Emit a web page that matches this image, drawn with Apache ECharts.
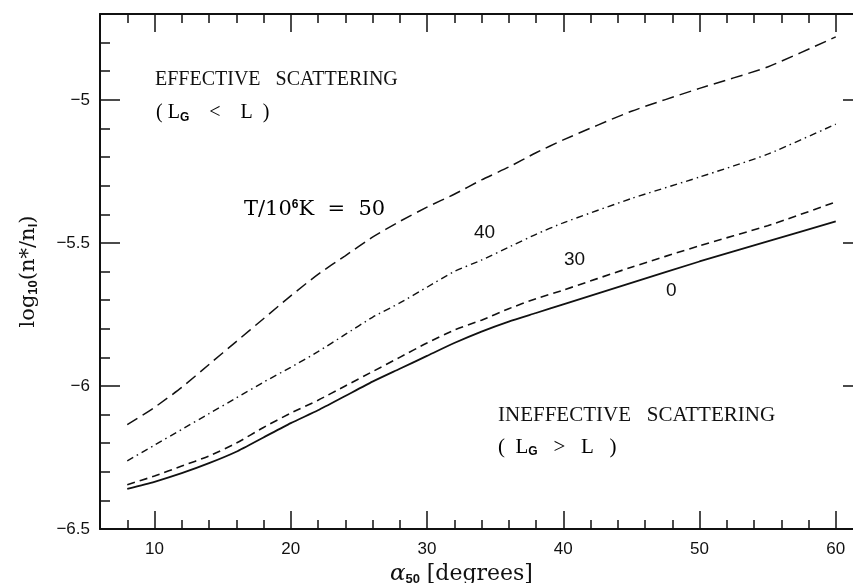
<!DOCTYPE html>
<html>
<head>
<meta charset="utf-8">
<script src="https://cdn.jsdelivr.net/npm/echarts@6/dist/echarts.min.js"></script>
<style>
  html, body { margin: 0; padding: 0; background: #fff; }
  #chart { width: 853px; height: 583px; }
</style>
</head>
<body>
<div id="chart"></div>
<script>
// alpha_50 [degrees]
const alpha = [8, 10, 12, 14, 16, 18, 20, 22, 24, 26, 28, 30, 32, 34, 36, 38, 40, 45, 50, 55, 60];
// log10(n*/n_l) for T/10^6 K = 0, 30, 40, 50
const t0  = [-6.36, -6.335, -6.305, -6.27, -6.23, -6.18, -6.13, -6.085, -6.035, -5.985, -5.94, -5.895, -5.85, -5.81, -5.775, -5.745, -5.715, -5.64, -5.565, -5.495, -5.425];
const t30 = [-6.345, -6.315, -6.28, -6.245, -6.2, -6.145, -6.095, -6.05, -6.0, -5.95, -5.9, -5.85, -5.805, -5.77, -5.73, -5.695, -5.665, -5.585, -5.51, -5.44, -5.357];
const t40 = [-6.262, -6.207, -6.152, -6.097, -6.042, -5.987, -5.935, -5.88, -5.82, -5.76, -5.71, -5.655, -5.6, -5.56, -5.515, -5.47, -5.43, -5.345, -5.27, -5.19, -5.085];
const t50 = [-6.135, -6.075, -6.005, -5.925, -5.845, -5.765, -5.685, -5.61, -5.545, -5.48, -5.425, -5.375, -5.33, -5.28, -5.235, -5.185, -5.14, -5.04, -4.96, -4.885, -4.78];

const curveLabels = ['0', '30', '40'];

const pair = (ys) => alpha.map((x, i) => [x, ys[i]]);

const serif = '"Liberation Serif", "DejaVu Serif", serif';
const wideSerif = '"DejaVu Serif", serif';
const sans = '"Liberation Sans", Arial, sans-serif';
const ink = '#111';

const rich = {
  s: { fontFamily: serif, fontSize: 20, color: ink },
  b: { fontFamily: serif, fontSize: 21, color: ink },
  w: { fontFamily: wideSerif, fontSize: 21, color: ink },
  sub: { fontFamily: sans, fontWeight: 'bold', fontSize: 12, color: ink, padding: [9, 0, 0, 0] },
  sup: { fontFamily: sans, fontWeight: 'bold', fontSize: 12, color: ink, padding: [0, 0, 11, 0] }
};

const xNameRich = {
  a: { fontFamily: wideSerif, fontStyle: 'italic', fontSize: 23, color: ink },
  s: { fontFamily: wideSerif, fontSize: 22, color: ink },
  sub: { fontFamily: sans, fontWeight: 'bold', fontSize: 13, color: ink, padding: [10, 0, 0, 0] }
};

const yNameRich = {
  s: { fontFamily: wideSerif, fontSize: 21, color: ink },
  sub: { fontFamily: sans, fontWeight: 'bold', fontSize: 13, color: ink, padding: [9, 0, 0, 0] }
};

const xBase = { type: 'value', min: 6, max: 62, gridIndex: 0 };
const yBase = { type: 'value', min: -6.5, max: -4.7, gridIndex: 0 };
const tickLine = { color: ink, width: 1.5 };

const myChart = echarts.init(document.getElementById('chart'));

const option = {
  animation: false,
  backgroundColor: '#fff',
  grid: { left: 100, top: 14, width: 763, height: 515, outerBoundsMode: 'none', containLabel: false },
  xAxis: [
    {
      ...xBase,
      position: 'bottom',
      minInterval: 10,
      maxInterval: 10,
      splitLine: { show: false },
      axisLine: { show: true, lineStyle: { color: ink, width: 2 } },
      axisTick: { show: true, inside: true, length: 18, lineStyle: tickLine },
      axisLabel: {
        margin: 12,
        fontFamily: sans,
        fontSize: 17,
        color: ink,
        showMinLabel: false,
        showMaxLabel: false,
        formatter: (v) => (v % 10 === 0 ? String(v) : '')
      },
      name: '{a|α}{sub|50}  {s|[degrees]}',
      nameLocation: 'middle',
      nameGap: 33,
      nameTextStyle: { padding: [0, 40, 0, 0], rich: xNameRich }
    },
    {
      ...xBase,
      position: 'bottom',
      interval: 2,
      splitLine: { show: false },
      axisLine: { show: false },
      axisTick: { show: true, inside: true, length: 9, lineStyle: tickLine },
      axisLabel: { show: false }
    },
    {
      ...xBase,
      position: 'top',
      minInterval: 10,
      maxInterval: 10,
      splitLine: { show: false },
      axisLine: { show: true, lineStyle: { color: ink, width: 2 } },
      axisTick: { show: true, inside: true, length: 18, lineStyle: tickLine },
      axisLabel: { show: false }
    },
    {
      ...xBase,
      position: 'top',
      interval: 2,
      splitLine: { show: false },
      axisLine: { show: false },
      axisTick: { show: true, inside: true, length: 9, lineStyle: tickLine },
      axisLabel: { show: false }
    }
  ],
  yAxis: [
    {
      ...yBase,
      position: 'left',
      minInterval: 0.5,
      maxInterval: 0.5,
      splitLine: { show: false },
      axisLine: { show: true, lineStyle: { color: ink, width: 2 } },
      axisTick: { show: true, inside: true, length: 20, lineStyle: tickLine },
      axisLabel: {
        margin: 10,
        fontFamily: sans,
        fontSize: 17,
        color: ink,
        showMaxLabel: false,
        formatter: (v) => {
          const k = v * 2;
          if (Math.abs(k - Math.round(k)) > 1e-6) return '';
          return String(v).replace('-', '\u2212');
        }
      },
      name: '{s|log}{sub|10}{s|(n*/n}{sub|l}{s|)}',
      nameLocation: 'middle',
      nameRotate: 90,
      nameGap: 60,
      nameTextStyle: { rich: yNameRich }
    },
    {
      ...yBase,
      position: 'left',
      interval: 0.1,
      splitLine: { show: false },
      axisLine: { show: false },
      axisTick: { show: true, inside: true, length: 10, lineStyle: tickLine },
      axisLabel: { show: false }
    },
    {
      ...yBase,
      position: 'right',
      minInterval: 0.5,
      maxInterval: 0.5,
      splitLine: { show: false },
      axisLine: { show: true, lineStyle: { color: ink, width: 2 } },
      axisTick: { show: true, inside: true, length: 20, lineStyle: tickLine },
      axisLabel: { show: false }
    },
    {
      ...yBase,
      position: 'right',
      interval: 0.1,
      splitLine: { show: false },
      axisLine: { show: false },
      axisTick: { show: true, inside: true, length: 10, lineStyle: tickLine },
      axisLabel: { show: false }
    }
  ],
  series: [
    {
      name: 'T=0', type: 'line', data: pair(t0), showSymbol: false, smooth: 0.2,
      lineStyle: { color: ink, width: 1.8, type: 'solid' }
    },
    {
      name: 'T=30', type: 'line', data: pair(t30), showSymbol: false, smooth: 0.2,
      lineStyle: { color: ink, width: 1.6, type: [8, 5] }
    },
    {
      name: 'T=40', type: 'line', data: pair(t40), showSymbol: false, smooth: 0.2,
      lineStyle: { color: ink, width: 1.4, type: [7, 4, 1.5, 4] }
    },
    {
      name: 'T=50', type: 'line', data: pair(t50), showSymbol: false, smooth: 0.2,
      lineStyle: { color: ink, width: 1.5, type: [12, 6] }
    }
  ],
  graphic: [
    { type: 'text', style: { x: 155, y: 80, verticalAlign: 'middle', text: 'EFFECTIVE   SCATTERING', font: '20px ' + serif, fill: ink } },
    { type: 'text', style: { x: 156, y: 113, verticalAlign: 'middle', text: '{s|( L}{sub|G}{s|    <    L  )}', rich: rich } },
    { type: 'text', style: { x: 244, y: 210, verticalAlign: 'middle', text: '{w|T/10}{sup|6}{w|K  =  50}', rich: rich } },
    { type: 'text', style: { x: 474, y: 233, verticalAlign: 'middle', text: curveLabels[2], font: '19px ' + sans, fill: ink } },
    { type: 'text', style: { x: 564, y: 260, verticalAlign: 'middle', text: curveLabels[1], font: '19px ' + sans, fill: ink } },
    { type: 'text', style: { x: 666, y: 291, verticalAlign: 'middle', text: curveLabels[0], font: '19px ' + sans, fill: ink } },
    { type: 'text', style: { x: 498, y: 415, verticalAlign: 'middle', text: 'INEFFECTIVE   SCATTERING', font: '21px ' + serif, fill: ink } },
    { type: 'text', style: { x: 498, y: 447, verticalAlign: 'middle', text: '{b|(  L}{sub|G}{b|   >   L   )}', rich: rich } }
  ]
};

myChart.setOption(option);
</script>
</body>
</html>
